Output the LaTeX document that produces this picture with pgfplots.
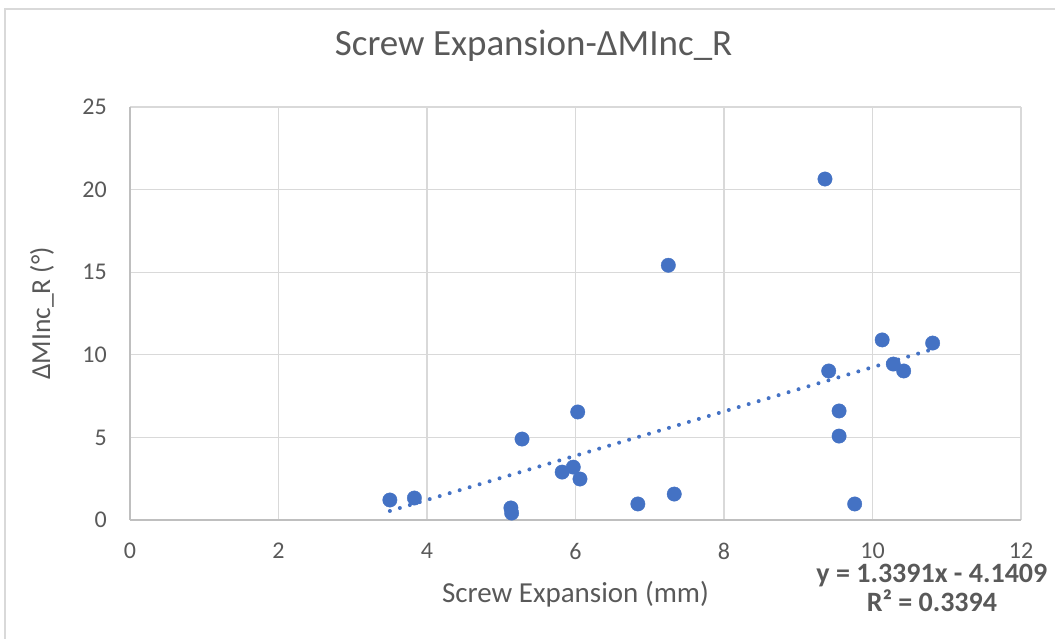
\documentclass[border=0pt]{standalone}
\usepackage{pgfplots}
\pgfplotsset{compat=1.18}
\usepackage{fontspec}
\setmainfont{Carlito}
\definecolor{txt}{HTML}{595959}
\definecolor{grd}{HTML}{D9D9D9}
\definecolor{axl}{HTML}{BFBFBF}
\definecolor{pts}{HTML}{4472C4}
\begin{document}
\begin{tikzpicture}
\useasboundingbox (0,0) rectangle (1055pt,639pt);
\draw[grd, line width=1.3pt] (5pt,-20pt) -- (5pt,630pt) -- (1080pt,630pt);
\begin{axis}[
  at={(130pt,119pt)}, anchor=south west,
  scale only axis, width=891pt, height=413pt,
  xmin=0, xmax=12, ymin=0, ymax=25,
  xtick={0,2,...,12}, ytick={0,5,...,25},
  grid=major, major grid style={grd, line width=1.3pt},
  axis lines=left, axis line style={-, axl, line width=1.3pt},
  major tick length=0pt,
  /pgf/number format/assume math mode=true,
  tick label style={font=\fontsize{24}{28}\selectfont, txt},
  yticklabel style={inner sep=0pt, anchor=east, xshift=-23pt},
  xticklabel style={inner sep=0pt, anchor=north, yshift=-23pt},
  title={Screw Expansion-ΔMInc\_R},
  title style={font=\fontsize{37}{44}\selectfont, txt, at={(rel axis cs:0.453,1.133)}, anchor=center},
  xlabel={Screw Expansion (mm)},
  xlabel style={font=\fontsize{29}{34}\selectfont, txt, at={(rel axis cs:0.5,-0.179)}, anchor=center},
  ylabel={ΔMInc\_R (°)},
  ylabel style={font=\fontsize{27.5}{32}\selectfont, txt, at={(rel axis cs:-0.0988,0.5)}, anchor=center, rotate=0},
  clip=false,
]
\addplot[only marks, mark=*, mark size=7.2pt, mark options={fill=pts, draw=pts}] coordinates {
(3.50,1.21) (3.83,1.33) (5.13,0.73) (5.14,0.42) (5.28,4.90) (5.82,2.90)
(5.97,3.20) (6.03,6.54) (6.06,2.48) (6.84,0.97) (7.25,15.42) (7.33,1.57)
(9.36,20.64) (9.41,9.02) (9.55,6.60) (9.55,5.08) (9.76,0.97) (10.13,10.90)
(10.28,9.44) (10.42,9.02) (10.81,10.71)
};
\addplot[pts, line width=4pt, line cap=round, dash pattern=on 0pt off 10.4pt] coordinates {
(3.50,0.546) (10.81,10.334)
};
\node[font=\bfseries\fontsize{28}{33}\selectfont, txt, anchor=center] at (rel axis cs:0.900,-0.135) {y = 1.3391x - 4.1409};
\node[font=\bfseries\fontsize{28}{33}\selectfont, txt, anchor=center] at (rel axis cs:0.900,-0.196) {R² = 0.3394};
\end{axis}
\end{tikzpicture}
\end{document}
